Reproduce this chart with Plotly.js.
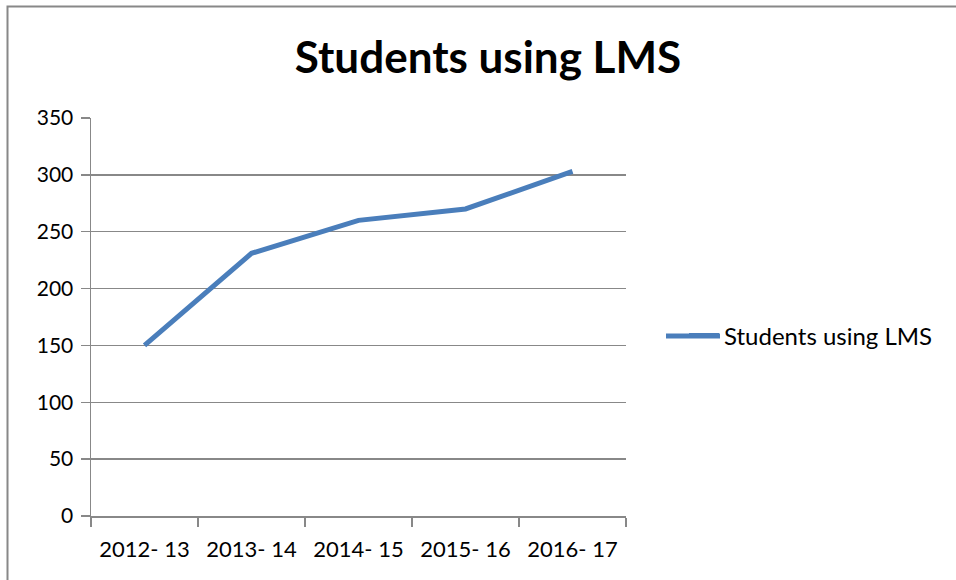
<!DOCTYPE html>
<html><head><meta charset="utf-8">
<script src="https://cdn.plot.ly/plotly-3.0.1.min.js"></script>
<style>body{margin:0;background:#fff}#c{width:956px;height:580px}</style>
</head><body><div id="c"></div>
<script>
const categories = ["2012- 13", "2013- 14", "2014- 15", "2015- 16", "2016- 17"];
const studentsUsingLMS = [150, 231, 260, 270, 303];
const yTicks = [0, 50, 100, 150, 200, 250, 300, 350];
const seriesName = "Students using LMS";
const chartTitle = "Students using LMS";

const W = 956, H = 580, L = 91, R = 330, T = 118, B = 64;
const pw = W - L - R, ph = H - T - B;
const font = "Lato, 'Open Sans', 'Liberation Sans', sans-serif";
const legY = 336;

Plotly.newPlot("c", [{
  x: categories, y: studentsUsingLMS, type: "scatter", mode: "lines",
  name: seriesName, line: {color: "#4a7ebb", width: 5, shape: "linear"}
}], {
  width: W, height: H,
  margin: {l: L, r: R, t: T, b: B, pad: 0},
  paper_bgcolor: "#fff", plot_bgcolor: "#fff",
  font: {family: font, size: 22, color: "#000"},
  title: {text: "<b>" + chartTitle + "</b>", font: {family: font, size: 44, color: "#000"},
          xref: "container", x: 488 / W, xanchor: "center", yref: "container", y: 1 - 58 / H, yanchor: "middle"},
  xaxis: {type: "category", tickson: "boundaries", ticks: "outside", ticklen: 9, tickcolor: "#888", tickwidth: 1.5,
          showline: true, linecolor: "#888", linewidth: 1.5, showgrid: false, zeroline: false,
          tickfont: {family: font, size: 22}, range: [-0.5, 4.5], ticklabelstandoff: 13},
  yaxis: {range: [0, 350], tickvals: yTicks, ticks: "outside", ticklen: 9, tickcolor: "#888", tickwidth: 1.5,
          showline: true, linecolor: "#888", linewidth: 1.5, showgrid: true, gridcolor: "#888", gridwidth: 1.5,
          zeroline: false, tickfont: {family: font, size: 21}, ticklabelstandoff: 3},
  showlegend: true,
  legend: {x: (684 - L) / pw, xanchor: "left", y: (H - B - legY) / ph, yanchor: "middle",
           font: {family: font, size: 24, color: "#000"}, bgcolor: "rgba(0,0,0,0)", borderwidth: 0},
  shapes: [
    {type: "rect", xref: "paper", yref: "paper",
     x0: (7.5 - L) / pw, x1: 2, y0: -1, y1: (H - B - 6.5) / ph,
     line: {color: "#888", width: 2}, fillcolor: "rgba(0,0,0,0)", layer: "below"},
    {type: "line", xref: "paper", yref: "paper",
     x0: (666 - L) / pw, x1: (720 - L) / pw, y0: (H - B - legY) / ph, y1: (H - B - legY) / ph,
     line: {color: "#4a7ebb", width: 5}, layer: "above"}
  ]
}, {staticPlot: true});
</script></body></html>
